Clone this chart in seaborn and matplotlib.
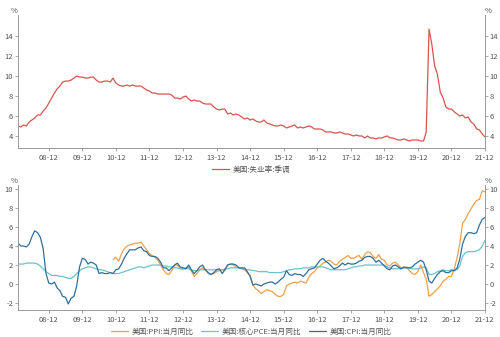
import numpy as np
import pandas as pd
import matplotlib
matplotlib.use("Agg")
import matplotlib.pyplot as plt
import seaborn as sns

# ---------------- data ----------------
unemployment = [
    5.0, 4.9, 5.1, 5.0, 5.4, 5.6, 5.8, 6.1, 6.1, 6.5, 6.8, 7.3,
    7.8, 8.3, 8.7, 9.0, 9.4, 9.5, 9.5, 9.6, 9.8, 10.0, 9.9, 9.9,
    9.8, 9.8, 9.9, 9.9, 9.6, 9.4, 9.4, 9.5, 9.5, 9.4, 9.8, 9.3,
    9.1, 9.0, 9.0, 9.1, 9.0, 9.1, 9.0, 9.0, 9.0, 8.8, 8.6, 8.5,
    8.3, 8.3, 8.2, 8.2, 8.2, 8.2, 8.2, 8.1, 7.8, 7.8, 7.7, 7.9,
    8.0, 7.7, 7.5, 7.6, 7.5, 7.5, 7.3, 7.2, 7.2, 7.2, 6.9, 6.7,
    6.6, 6.7, 6.7, 6.2, 6.3, 6.1, 6.2, 6.1, 5.9, 5.7, 5.8, 5.6,
    5.7, 5.5, 5.4, 5.4, 5.6, 5.3, 5.2, 5.1, 5.0, 5.0, 5.1, 5.0,
    4.8, 4.9, 5.0, 5.1, 4.8, 4.9, 4.8, 4.9, 5.0, 4.9, 4.7, 4.7,
    4.7, 4.6, 4.4, 4.4, 4.4, 4.3, 4.3, 4.4, 4.3, 4.2, 4.2, 4.1,
    4.0, 4.1, 4.0, 4.0, 3.8, 4.0, 3.8, 3.8, 3.7, 3.8, 3.8, 3.9,
    4.0, 3.8, 3.8, 3.7, 3.6, 3.6, 3.7, 3.6, 3.5, 3.6, 3.6, 3.6,
    3.5, 3.5, 4.4, 14.7, 13.2, 11.0, 10.2, 8.4, 7.8, 6.9, 6.7, 6.7,
    6.4, 6.2, 6.0, 6.1, 5.8, 5.9, 5.4, 5.2, 4.7, 4.6, 4.2, 3.9,
]

cpi = [
    4.3, 4.0, 4.0, 3.9, 4.2, 5.0, 5.6, 5.4, 4.9, 3.7, 1.1, 0.1,
    0.0, 0.2, -0.4, -0.7, -1.3, -1.4, -2.1, -1.5, -1.3, -0.2, 1.8, 2.7,
    2.6, 2.1, 2.3, 2.2, 2.0, 1.1, 1.2, 1.1, 1.1, 1.2, 1.1, 1.5,
    1.6, 2.1, 2.7, 3.2, 3.6, 3.6, 3.6, 3.8, 3.9, 3.5, 3.4, 3.0,
    2.9, 2.9, 2.7, 2.3, 1.7, 1.7, 1.4, 1.7, 2.0, 2.2, 1.8, 1.7,
    1.6, 2.0, 1.5, 1.1, 1.4, 1.8, 2.0, 1.5, 1.2, 1.0, 1.2, 1.5,
    1.6, 1.1, 1.5, 2.0, 2.1, 2.1, 2.0, 1.7, 1.7, 1.7, 1.3, 0.8,
    -0.1, 0.0, -0.1, -0.2, 0.0, 0.1, 0.2, 0.2, 0.0, 0.2, 0.5, 0.7,
    1.4, 1.0, 0.9, 1.1, 1.0, 1.0, 0.8, 1.1, 1.5, 1.6, 1.7, 2.1,
    2.5, 2.7, 2.4, 2.2, 1.9, 1.6, 1.7, 1.9, 2.2, 2.0, 2.2, 2.1,
    2.1, 2.2, 2.4, 2.5, 2.8, 2.9, 2.9, 2.7, 2.3, 2.5, 2.2, 1.9,
    1.6, 1.5, 1.9, 2.0, 1.8, 1.6, 1.8, 1.7, 1.7, 1.8, 2.1, 2.3,
    2.5, 2.3, 1.5, 0.3, 0.1, 0.6, 1.0, 1.3, 1.4, 1.2, 1.2, 1.4,
    1.4, 1.7, 2.6, 4.2, 5.0, 5.4, 5.4, 5.3, 5.4, 6.2, 6.8, 7.0,
]

core_pce = [
    2.1, 2.1, 2.1, 2.2, 2.2, 2.2, 2.2, 2.1, 1.9, 1.6, 1.3, 1.1,
    0.9, 0.9, 0.9, 0.8, 0.8, 0.7, 0.6, 0.6, 0.8, 1.1, 1.4, 1.6,
    1.7, 1.8, 1.8, 1.7, 1.6, 1.5, 1.5, 1.4, 1.3, 1.2, 1.1, 1.1,
    1.1, 1.2, 1.3, 1.4, 1.5, 1.6, 1.7, 1.8, 1.8, 1.7, 1.8, 1.9,
    2.0, 2.0, 2.0, 2.0, 1.9, 1.9, 1.8, 1.8, 1.7, 1.7, 1.6, 1.6,
    1.7, 1.6, 1.5, 1.4, 1.4, 1.5, 1.5, 1.5, 1.5, 1.5, 1.5, 1.5,
    1.5, 1.5, 1.6, 1.6, 1.7, 1.7, 1.7, 1.7, 1.6, 1.6, 1.5, 1.5,
    1.4, 1.4, 1.3, 1.3, 1.3, 1.3, 1.2, 1.2, 1.2, 1.2, 1.2, 1.3,
    1.4, 1.5, 1.5, 1.6, 1.6, 1.6, 1.7, 1.7, 1.7, 1.8, 1.8, 1.8,
    1.8, 1.8, 1.7, 1.6, 1.5, 1.5, 1.5, 1.5, 1.5, 1.5, 1.6, 1.7,
    1.8, 1.8, 1.9, 1.9, 2.0, 2.0, 2.0, 2.0, 2.0, 2.0, 2.0, 2.0,
    1.8, 1.7, 1.6, 1.6, 1.6, 1.6, 1.7, 1.7, 1.7, 1.6, 1.6, 1.6,
    1.7, 1.8, 1.7, 1.0, 1.0, 1.1, 1.3, 1.4, 1.5, 1.4, 1.4, 1.5,
    1.5, 1.5, 1.9, 2.9, 3.3, 3.4, 3.4, 3.4, 3.5, 3.6, 4.0, 4.6,
]

# PPI (final demand) starts 2010-11
ppi = [
    2.6, 2.8,
    2.4, 3.2, 3.7, 4.0, 4.1, 4.2, 4.3, 4.3, 4.4, 4.0, 3.6, 3.2,
    3.0, 2.8, 2.5, 2.0, 1.5, 1.1, 1.0, 1.4, 2.0, 2.0, 1.6, 1.6,
    1.6, 1.8, 1.4, 0.8, 1.1, 1.5, 1.7, 1.5, 1.1, 1.0, 1.1, 1.3,
    1.4, 1.5, 1.4, 2.0, 2.1, 2.0, 1.8, 1.7, 1.6, 1.5, 1.2, 0.9,
    -0.1, -0.5, -0.7, -1.0, -0.8, -0.6, -0.7, -0.8, -1.1, -1.3, -1.3, -1.1,
    -0.2, 0.0, 0.1, 0.2, 0.1, 0.3, 0.2, 0.1, 0.7, 1.1, 1.3, 1.7,
    1.9, 2.2, 2.3, 2.5, 2.4, 2.1, 2.0, 2.4, 2.6, 2.8, 3.0, 2.7,
    2.7, 2.9, 3.0, 2.6, 3.1, 3.4, 3.3, 2.9, 2.7, 3.1, 2.6, 2.5,
    2.0, 1.9, 2.2, 2.3, 2.0, 1.7, 1.7, 1.8, 1.4, 1.1, 1.0, 1.3,
    2.0, 1.2, 0.5, -1.3, -1.1, -0.8, -0.5, -0.2, 0.3, 0.5, 0.8, 0.8,
    1.6, 2.8, 4.2, 6.4, 6.8, 7.4, 7.9, 8.4, 8.8, 8.9, 9.8, 9.7,
]

tick_labels = ["08-12", "09-12", "10-12", "11-12", "12-12", "13-12", "14-12",
               "15-12", "16-12", "17-12", "18-12", "19-12", "20-12", "21-12"]

label_unemp = "美国:失业率:季调"
label_ppi = "美国:PPI:当月同比"
label_pce = "美国:核心PCE:当月同比"
label_cpi = "美国:CPI:当月同比"

# ---------------- frames ----------------
dates = pd.date_range("2008-01-01", periods=len(unemployment), freq="MS")
ppi_dates = pd.date_range("2010-11-01", periods=len(ppi), freq="MS")
df_top = pd.DataFrame({"date": dates, "value": unemployment, "series": label_unemp})
df_bot = pd.concat([
    pd.DataFrame({"date": ppi_dates, "value": ppi, "series": label_ppi}),
    pd.DataFrame({"date": dates, "value": core_pce, "series": label_pce}),
    pd.DataFrame({"date": dates, "value": cpi, "series": label_cpi}),
], ignore_index=True)

# ---------------- style ----------------
sns.set_style("white")
plt.rcParams["font.family"] = ["Noto Sans CJK SC", "DejaVu Sans"]
plt.rcParams["axes.unicode_minus"] = False

axis_color = "#999999"
text_color = "#555555"
fs = 5.5

fig = plt.figure(figsize=(5.0, 3.37), dpi=100)
ax1 = fig.add_axes([0.036, 0.561, 0.934, 0.394])
ax2 = fig.add_axes([0.036, 0.080, 0.934, 0.371])

sns.lineplot(data=df_top, x="date", y="value", hue="series",
             palette={label_unemp: "#d9534f"}, linewidth=0.9, ax=ax1)
sns.lineplot(data=df_bot, x="date", y="value", hue="series",
             palette={label_ppi: "#f0a04b", label_pce: "#6cc3c9", label_cpi: "#2f6f9a"},
             linewidth=0.9, ax=ax2)

tick_dates = pd.date_range("2008-12-01", "2021-12-01", freq="12MS")
xlim = (pd.Timestamp("2008-01-01"), pd.Timestamp("2021-12-01"))

for ax, ylim, yticks in [(ax1, (2.8, 16.1), [4, 6, 8, 10, 12, 14]),
                         (ax2, (-2.74, 10.42), [-2, 0, 2, 4, 6, 8, 10])]:
    ax.set_xlim(*xlim)
    ax.set_ylim(*ylim)
    ax.set_xticks(tick_dates)
    ax.set_xticklabels(tick_labels)
    ax.set_yticks(yticks)
    ax.set_yticklabels([f"{v}" for v in yticks])
    ax.set_xlabel("")
    ax.set_ylabel("")
    for s in ["left", "right", "bottom"]:
        ax.spines[s].set_visible(True)
        ax.spines[s].set_color(axis_color)
        ax.spines[s].set_linewidth(0.7)
    ax.spines["top"].set_visible(False)
    ax.tick_params(axis="y", which="both", left=True, right=True,
                   labelleft=True, labelright=True, length=2.5, width=0.6,
                   color=axis_color, labelcolor=text_color, labelsize=fs, pad=1)
    ax.tick_params(axis="x", bottom=True, length=2.5, width=0.6,
                   color=axis_color, labelcolor=text_color, labelsize=fs, pad=2)
    ax.text(0.0, 1.0, "%", transform=ax.transAxes, ha="right", va="bottom",
            fontsize=fs, color=text_color)
    ax.text(1.0, 1.0, "%", transform=ax.transAxes, ha="left", va="bottom",
            fontsize=fs, color=text_color)

ax1.legend(loc="upper center", bbox_to_anchor=(0.5, -0.085), ncol=1, frameon=False,
           fontsize=fs, handlelength=2.2, handletextpad=0.5, labelcolor=text_color)
ax2.legend(loc="upper center", bbox_to_anchor=(0.5, -0.085), ncol=3, frameon=False,
           fontsize=fs, handlelength=2.2, handletextpad=0.5, columnspacing=1.0,
           labelcolor=text_color)

fig.savefig("out.png", dpi=100, facecolor="white")
